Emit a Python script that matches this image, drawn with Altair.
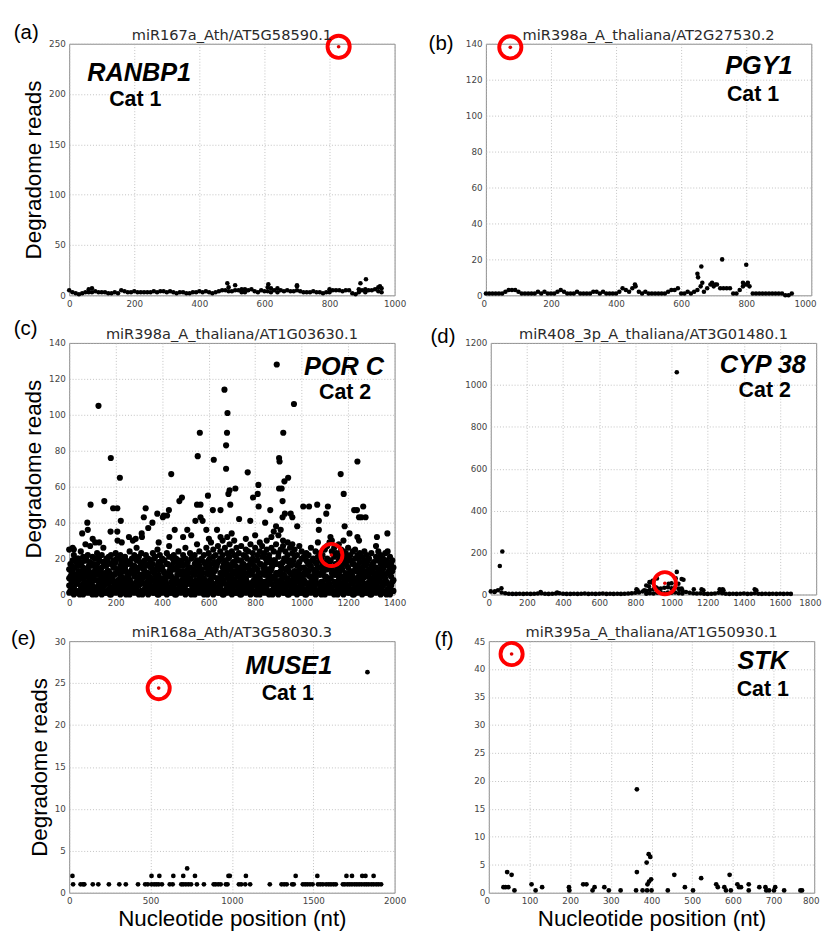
import altair as alt
import pandas as pd

# ---------------- Panel (a) miR167a_Ath/AT5G58590.1 ----------------
a_pos = [0, 10, 20, 30, 40, 50, 60, 70, 80, 90, 100, 110, 120, 130, 140, 150, 160, 170, 180, 190,
         200, 210, 220, 230, 240, 250, 260, 270, 280, 290, 300, 310, 320, 330, 340, 350, 360, 370, 380, 390,
         400, 410, 420, 430, 440, 450, 460, 470, 480, 490, 500, 510, 520, 530, 540, 550, 560, 570, 580, 590,
         600, 610, 620, 630, 640, 650, 660, 670, 680, 690, 700, 710, 720, 730, 740, 750, 760, 770, 780, 790,
         800, 810, 820, 830, 840, 850, 860, 870, 880, 890, 900, 910, 920, 930, 940, 950, 960,
         490, 610, 700, 950, 960, 640, 620, 530, 540, 70, 60, 800, 890, 910,
         486, 510, 612, 700, 895, 912, 955]
a_reads = [5, 3, 2, 1, 2, 3, 6, 7, 4, 3, 3, 3, 2, 2, 3, 2, 5, 4, 3, 3,
           4, 3, 3, 3, 3, 3, 4, 3, 4, 4, 3, 4, 3, 2, 3, 3, 2, 2, 3, 3,
           4, 3, 4, 3, 2, 3, 4, 5, 5, 8, 4, 5, 5, 6, 6, 5, 6, 4, 3, 5,
           4, 8, 7, 5, 7, 5, 4, 5, 4, 4, 9, 4, 3, 3, 3, 4, 3, 3, 2, 3,
           6, 5, 5, 5, 4, 5, 5, 2, 1, 6, 5, 6, 5, 5, 6, 8, 7,
           4, 4, 5, 4, 3, 3, 3, 3, 3, 3, 3, 3, 3, 3,
           12, 10, 11, 10, 12, 16, 9]
a_red = [(828, 247)]

# ---------------- Panel (b) miR398a_A_thaliana/AT2G27530.2 ----------------
b_pos = [0, 10, 20, 30, 40, 50, 60, 70, 80, 90, 100, 110, 120, 130, 140, 150, 160, 170, 180, 190,
         200, 210, 220, 230, 240, 250, 260, 270, 280, 290, 300, 310, 320, 330, 340, 350, 360, 370, 380, 390,
         400, 410, 420, 430, 440, 450, 460, 470, 480, 490, 500, 510, 520, 530, 540, 550, 560, 570, 580, 590,
         600, 610, 620, 630, 640, 650, 660, 670, 680, 690, 700, 710, 720, 730, 740, 750, 760, 770, 780, 790,
         800, 810, 820, 830, 840, 850, 860, 870, 880, 890, 900, 910, 920, 930, 940,
         650, 652, 662, 726, 800, 695, 705, 790, 805, 458, 665]
b_reads = [1, 1, 1, 1, 1, 1, 2, 3, 3, 3, 2, 1, 1, 1, 1, 1, 2, 1, 2, 1,
           1, 1, 2, 3, 2, 1, 1, 1, 2, 1, 1, 1, 1, 2, 2, 1, 2, 1, 1, 1,
           1, 2, 4, 3, 2, 4, 5, 2, 1, 2, 1, 1, 1, 1, 1, 1, 2, 3, 3, 4,
           1, 1, 2, 1, 2, 3, 5, 2, 4, 6, 5, 6, 4, 4, 4, 4, 1, 1, 3, 5,
           6, 5, 1, 1, 1, 1, 1, 1, 1, 1, 1, 1, 0, 0, 1,
           12, 10, 16, 20, 17, 7, 6, 7, 7, 6, 7]
b_red = [(75, 138)]

# ---------------- Panel (c) miR398a_A_thaliana/AT1G03630.1 ----------------
c_band_pos = [0, 10, 20, 30, 40, 50, 60, 70, 80, 90, 100, 110, 120, 130, 140, 150, 160, 170, 180, 190,
              200, 210, 220, 230, 240, 250, 260, 270, 280, 290, 300, 310, 320, 330, 340, 350, 360, 370, 380, 390,
              400, 410, 420, 430, 440, 450, 460, 470, 480, 490, 500, 510, 520, 530, 540, 550, 560, 570, 580, 590,
              600, 610, 620, 630, 640, 650, 660, 670, 680, 690, 700, 710, 720, 730, 740, 750, 760, 770, 780, 790,
              800, 810, 820, 830, 840, 850, 860, 870, 880, 890, 900, 910, 920, 930, 940, 950, 960, 970, 980, 990,
              1000, 1010, 1020, 1030, 1040, 1050, 1060, 1070, 1080, 1090, 1100, 1110, 1120, 1130, 1140, 1150,
              1160, 1170, 1180, 1190, 1200, 1210, 1220, 1230, 1240, 1250, 1260, 1270, 1280, 1290, 1300, 1310,
              1320, 1330, 1340, 1350, 1360, 1370, 1380, 1390]
c_band_reads = [
    [1, 5, 9, 14, 25], [3, 7, 12, 16], [0, 4, 10, 15, 22], [2, 6, 11, 18], [1, 8, 13, 20],
    [3, 5, 12, 17, 24], [0, 6, 9, 15, 21], [2, 4, 11, 19, 28], [1, 7, 14, 22], [3, 9, 12, 18, 27],
    [0, 5, 10, 16, 21], [2, 8, 13, 20], [1, 4, 11, 17, 23], [3, 7, 14, 19], [0, 6, 9, 15, 22],
    [2, 5, 12, 18], [1, 8, 10, 16, 20], [3, 6, 13, 21], [0, 4, 9, 17, 22], [2, 7, 11, 15, 19],
    [1, 5, 12, 18, 23], [3, 8, 14, 20], [0, 6, 10, 16, 22], [2, 4, 13, 19], [1, 7, 9, 15, 21],
    [3, 5, 11, 17], [0, 8, 12, 18, 24], [2, 6, 14, 20], [1, 4, 10, 16, 22], [3, 7, 13, 19, 26],
    [0, 5, 9, 15, 21], [2, 8, 11, 17, 23], [1, 6, 14, 18], [3, 4, 10, 16, 22], [0, 7, 12, 20],
    [2, 5, 9, 15, 19], [1, 8, 13, 17, 23], [3, 6, 11, 21], [0, 4, 10, 16, 25], [2, 7, 14, 18, 22],
    [1, 5, 9, 15, 20], [3, 8, 12, 19], [0, 6, 11, 17, 23], [2, 4, 13, 21, 27], [1, 7, 10, 16],
    [3, 5, 14, 18, 22], [0, 8, 9, 15, 20], [2, 6, 12, 19, 24], [1, 4, 11, 17], [3, 7, 13, 16, 22],
    [0, 5, 10, 20, 26], [2, 8, 14, 18], [1, 6, 9, 15, 23], [3, 4, 12, 21], [0, 7, 11, 17, 22],
    [2, 5, 13, 19, 28], [1, 8, 10, 16, 24], [3, 6, 14, 20], [0, 4, 9, 18, 22], [2, 7, 12, 15, 26],
    [1, 5, 11, 19, 23], [3, 8, 13, 17, 29], [0, 6, 10, 21, 25], [2, 4, 14, 16, 22], [1, 7, 9, 18, 27],
    [3, 5, 12, 20, 24], [0, 8, 11, 15, 22, 30], [2, 6, 13, 19, 26], [1, 4, 10, 17, 23, 32], [3, 7, 14, 21, 28],
    [0, 5, 9, 16, 24], [2, 8, 12, 18, 22, 30], [1, 6, 11, 20, 26], [3, 4, 13, 15, 23], [0, 7, 10, 19, 27],
    [2, 5, 14, 17, 22], [1, 8, 9, 21, 25, 31], [3, 6, 12, 16, 24], [0, 4, 11, 18, 28], [2, 7, 13, 20, 23],
    [1, 5, 10, 15, 26, 33], [3, 8, 14, 19, 22], [0, 6, 9, 17, 24, 29], [2, 4, 12, 21, 27], [1, 7, 11, 16, 23],
    [3, 5, 13, 18, 25, 30], [0, 8, 10, 20, 22], [2, 6, 14, 15, 26, 32], [1, 4, 9, 19, 24, 35], [3, 7, 12, 17, 28, 38],
    [0, 5, 11, 21, 23, 33], [2, 8, 13, 16, 25, 36], [1, 6, 10, 18, 27, 30], [3, 4, 14, 20, 24], [0, 7, 9, 15, 22, 29],
    [2, 5, 12, 19, 26], [1, 8, 11, 17, 23, 28], [3, 6, 13, 21, 25], [0, 4, 10, 16, 22], [2, 7, 14, 18, 27],
    [1, 5, 9, 20, 24], [3, 8, 12, 15, 21], [0, 6, 11, 19, 23], [2, 4, 13, 17, 22], [1, 7, 10, 16, 26],
    [3, 5, 14, 20], [0, 8, 9, 18, 24], [2, 6, 12, 15, 21, 29], [1, 4, 11, 19, 23], [3, 7, 13, 17, 22],
    [0, 5, 10, 16, 25], [2, 8, 14, 20, 27], [1, 6, 9, 18, 29], [3, 4, 12, 15, 24, 30], [0, 7, 11, 21, 26],
    [2, 5, 13, 17, 23], [1, 8, 10, 19, 22, 28], [3, 6, 14, 16, 25], [0, 4, 9, 20, 24, 30], [2, 7, 12, 18, 23],
    [1, 5, 11, 15, 21, 26], [3, 8, 13, 19, 22], [0, 6, 10, 17, 24], [2, 4, 14, 20, 25], [1, 7, 9, 16, 22],
    [3, 5, 12, 18, 23], [0, 8, 11, 15, 21], [2, 6, 13, 19, 24], [1, 4, 10, 17, 22], [3, 7, 14, 20],
    [0, 5, 9, 16, 23], [2, 8, 12, 18], [1, 6, 11, 15, 21, 27], [3, 4, 13, 19, 24], [0, 7, 10, 17, 22],
    [2, 5, 14, 20], [1, 8, 9, 16, 23], [3, 6, 12, 18, 24], [0, 4, 11, 15, 21], [2, 7, 13, 19],
]
c_band2_pos = [5, 15, 25, 35, 45, 55, 65, 75, 85, 95, 105, 115, 125, 135, 145, 155, 165, 175, 185, 195,
               205, 215, 225, 235, 245, 255, 265, 275, 285, 295, 305, 315, 325, 335, 345, 355, 365, 375, 385,
               395, 405, 415, 425, 435, 445, 455, 465, 475, 485, 495, 505, 515, 525, 535, 545, 555, 565, 575,
               585, 595, 605, 615, 625, 635, 645, 655, 665, 675, 685, 695, 705, 715, 725, 735, 745, 755, 765,
               775, 785, 795, 805, 815, 825, 835, 845, 855, 865, 875, 885, 895, 905, 915, 925, 935, 945, 955,
               965, 975, 985, 995, 1005, 1015, 1025, 1035, 1045, 1055, 1065, 1075, 1085, 1095, 1105, 1115,
               1125, 1135, 1145, 1155, 1165, 1175, 1185, 1195, 1205, 1215, 1225, 1235, 1245, 1255, 1265, 1275,
               1285, 1295, 1305, 1315, 1325, 1335, 1345, 1355, 1365, 1375, 1385, 1395]
c_band2_reads = [
    [2, 10, 17], [4, 13, 19], [1, 8, 15], [6, 11, 20], [0, 9, 16], [3, 12, 18], [5, 7, 14], [2, 10, 19],
    [4, 13, 16], [1, 6, 11], [3, 9, 17], [0, 12, 15], [5, 8, 20], [2, 11, 14], [4, 7, 18], [1, 10, 16],
    [6, 13, 19], [0, 8, 12], [3, 9, 17], [5, 11, 15], [2, 7, 20], [4, 12, 14], [1, 10, 18], [6, 8, 16],
    [0, 13, 19], [3, 9, 11], [5, 7, 17], [2, 12, 15], [4, 10, 20], [1, 8, 14], [6, 11, 18], [0, 9, 16],
    [3, 13, 19], [5, 7, 12], [2, 10, 17], [4, 8, 15], [1, 12, 20], [6, 9, 14], [0, 11, 18], [3, 7, 16],
    [5, 13, 19], [2, 8, 11], [4, 10, 17], [1, 12, 15], [6, 9, 20], [0, 7, 14], [3, 11, 18], [5, 13, 16],
    [2, 8, 19], [4, 10, 12], [1, 9, 17], [6, 12, 15], [0, 7, 20], [3, 11, 14], [5, 8, 18], [2, 13, 16],
    [4, 10, 19], [1, 9, 12], [6, 7, 17], [0, 12, 15], [3, 8, 20], [5, 11, 14], [2, 13, 18], [4, 9, 16],
    [1, 7, 19], [6, 10, 12], [0, 8, 17], [3, 12, 15], [5, 9, 20], [2, 11, 14], [4, 7, 18], [1, 13, 16],
    [6, 10, 19], [0, 8, 12], [3, 9, 17], [5, 12, 15], [2, 7, 20], [4, 11, 14], [1, 13, 18], [6, 8, 16],
    [0, 10, 19], [3, 9, 12], [5, 7, 17], [2, 12, 15], [4, 11, 20], [1, 8, 14], [6, 13, 18], [0, 10, 16],
    [3, 9, 19], [5, 7, 12], [2, 12, 17], [4, 8, 15], [1, 11, 20], [6, 9, 14], [0, 13, 18], [3, 7, 16],
    [5, 10, 19], [2, 8, 11], [4, 12, 17], [1, 9, 15], [6, 11, 20], [0, 7, 14], [3, 13, 18], [5, 10, 16],
    [2, 8, 19], [4, 9, 12], [1, 12, 17], [6, 11, 15], [0, 7, 20], [3, 13, 14], [5, 10, 18], [2, 8, 16],
    [4, 9, 19], [1, 12, 13], [6, 11, 17], [0, 7, 15], [3, 13, 20], [5, 10, 14], [2, 8, 18], [4, 9, 16],
    [1, 12, 19], [6, 11, 12], [0, 7, 17], [3, 13, 15], [5, 10, 20], [2, 8, 14], [4, 9, 18], [1, 12, 16],
    [6, 11, 19], [0, 7, 12], [3, 13, 17], [5, 10, 15], [2, 8, 20], [4, 9, 14], [1, 12, 18], [6, 11, 16],
    [0, 7, 19], [3, 13, 12], [5, 10, 17], [2, 8, 15],
]
c_high_pos = [15, 20, 56, 78, 80, 92, 101, 112, 126, 129, 147, 151, 179, 178, 189, 207, 222, 218, 207, 208,
              226, 257, 274, 286, 312, 313, 321, 329, 340, 358, 379, 385, 403, 407, 421, 429, 439, 431, 454,
              474, 485, 490, 508, 525, 543, 553, 550, 565, 562, 565, 574, 590, 597, 601, 618, 622, 636, 651,
              651, 668, 675, 681, 679, 675, 685, 693, 690, 699, 715, 731, 768, 779, 791, 814, 811, 815, 843,
              865, 893, 903, 905, 921, 903, 914, 918, 926, 942, 918, 928, 953, 960, 967, 981, 1007, 1032,
              1067, 1074, 1074, 1106, 1113, 1124, 1168, 1181, 1185, 1206, 1226, 1240, 1238, 1247, 1257,
              1240, 1247, 1265, 1275, 1324, 1369]
c_high_reads = [26, 25, 34, 40, 36, 50, 31, 29, 105, 29, 26, 52, 76, 35, 48, 48, 41, 65, 35, 30,
                29, 32, 30, 31, 34, 32, 43, 48, 37, 40, 45, 29, 43, 44, 44, 47, 67, 32, 36,
                52, 54, 32, 36, 33, 41, 77, 50, 50, 90, 43, 41, 36, 55, 31, 47, 75, 36, 47,
                32, 114, 83, 101, 90, 70, 56, 50, 58, 34, 59, 42, 68, 41, 54, 61, 56, 49, 40,
                47, 128, 76, 74, 90, 59, 59, 52, 63, 65, 43, 45, 45, 43, 106, 38, 49, 49,
                50, 41, 36, 45, 49, 32, 67, 56, 38, 34, 47, 74, 47, 43, 43,
                32, 30, 49, 43, 32, 34]
c_red = [(1128, 22)]

# ---------------- Panel (d) miR408_3p_A_thaliana/AT3G01480.1 ----------------
d_pos = [0, 20, 40, 60, 80, 100, 120, 140, 160, 180, 200, 220, 240, 260, 280, 300, 320, 340, 360, 380,
         400, 420, 440, 460, 480, 500, 520, 540, 560, 580, 600, 620, 640, 660, 680, 700, 720, 740, 760, 780,
         800, 820, 840, 860, 880, 900, 920, 940, 960, 980, 1000, 1020, 1040, 1060, 1080, 1100, 1120, 1140,
         1160, 1180, 1200, 1220, 1240, 1260, 1280, 1300, 1320, 1340, 1360, 1380, 1400, 1420, 1440, 1460,
         1480, 1500, 1520, 1540, 1560, 1580, 1600, 1620, 1640, 1660,
         880, 900, 920, 940, 960, 980, 1000, 1020, 1040, 1060, 860,
         1029, 64, 50, 59, 23, 276, 367, 806, 812, 849, 860, 875, 878, 892, 895, 913, 919, 984, 1000,
         1023, 1029, 1038, 1044, 1056, 1056, 1066, 1123, 1166, 1176, 1266, 1274, 1283, 1287, 1460, 1469]
d_reads = [15, 12, 20, 10, 6, 4, 3, 3, 4, 3, 4, 3, 4, 5, 6, 4, 3, 4, 5, 6,
           4, 3, 3, 4, 3, 4, 5, 3, 4, 3, 4, 5, 3, 4, 3, 4, 3, 4, 5, 6,
           8, 10, 14, 18, 22, 25, 30, 28, 32, 35, 30, 34, 28, 20, 12, 8, 6, 5,
           6, 4, 3, 4, 5, 8, 6, 4, 3, 4, 3, 4, 5, 3, 4, 6,
           4, 3, 4, 3, 4, 3, 4, 3, 4, 3,
           6, 5, 8, 10, 6, 10, 8, 10, 6, 5, 4,
           1060, 205, 136, 30, 15, 12, 10, 25, 20, 20, 43, 39, 59, 57, 66, 35, 77, 51, 54,
           77, 108, 51, 23, 74, 28, 70, 25, 25, 20, 25, 20, 25, 20, 25, 20]
d_red = [(963, 54)]

# ---------------- Panel (e) miR168a_Ath/AT3G58030.3 ----------------
e_pos = [24, 70, 85, 93, 145, 179, 244, 308, 348, 423, 467, 483, 506, 522, 536, 550, 570, 618, 636, 689,
         701, 717, 733, 749, 785, 828, 888, 900, 916, 931, 963, 973, 1043, 1057, 1082, 1112, 1233, 1305,
         1321, 1337, 1370, 1380, 1436, 1450, 1464, 1480, 1496, 1529, 1543, 1559, 1579, 1595, 1609, 1625,
         1639, 1682, 1694, 1710, 1724, 1738, 1754, 1768, 1782, 1797, 1813, 1827, 1841, 1857, 1871, 1887,
         1901, 1917,
         20, 506, 554, 640, 701, 773, 979, 987, 1086, 1392, 1525, 1704, 1738, 1801, 1821, 1871,
         725, 1833]
e_reads = [1, 1, 1, 1, 1, 1, 1, 1, 1, 1, 1, 1, 1, 1, 1, 1, 1, 1, 1, 1,
           1, 1, 1, 1, 1, 1, 1, 1, 1, 1, 1, 1, 1, 1, 1, 1, 1, 1,
           1, 1, 1, 1, 1, 1, 1, 1, 1, 1, 1, 1, 1, 1, 1, 1,
           1, 1, 1, 1, 1, 1, 1, 1, 1, 1, 1, 1, 1, 1, 1, 1,
           1, 1,
           2, 2, 2, 2, 2, 2, 2, 2, 2, 2, 2, 2, 2, 2, 2, 2,
           2.9, 26.3]
e_red = [(550, 24.4)]

# ---------------- Panel (f) miR395a_A_thaliana/AT1G50930.1 ----------------
f_pos = [36, 41, 48, 45, 56, 63, 105, 115, 131, 197, 198, 232, 240, 255, 260, 284, 295, 324, 362, 364,
         364, 378, 388, 390, 393, 397, 394, 399, 400, 389, 440, 456, 482, 502, 522, 559, 563, 579, 583,
         592, 595, 611, 615, 620, 639, 639, 665, 680, 682, 689, 704, 701, 726, 766, 770]
f_reads = [1, 1, 1, 3.7, 3.2, 0.4, 1.5, 0.4, 1, 1, 0.4, 1.5, 1.5, 0.4, 1, 1, 0.4, 0.4, 0.4, 3.7,
           18.5, 0.4, 5.4, 1.5, 6.9, 6.4, 2, 2.4, 0.4, 0.4, 0.4, 3.2, 1, 0.4, 2.6, 1.5, 1, 1, 0.4,
           3.2, 0.4, 1.5, 1, 1, 1.5, 0.4, 1, 1, 0.4, 0.4, 1, 0.4, 0.4, 0.4, 0.4]
f_red = [(56, 42.7)]

# ---------------- Axis ticks ----------------
ticks_x_1000 = [0, 200, 400, 600, 800, 1000]
ticks_x_1400 = [0, 200, 400, 600, 800, 1000, 1200, 1400]
ticks_x_1800 = [0, 200, 400, 600, 800, 1000, 1200, 1400, 1600, 1800]
ticks_x_2000 = [0, 500, 1000, 1500, 2000]
ticks_x_800 = [0, 100, 200, 300, 400, 500, 600, 700, 800]
ticks_y_250 = [0, 50, 100, 150, 200, 250]
ticks_y_140 = [0, 20, 40, 60, 80, 100, 120, 140]
ticks_y_1200 = [0, 200, 400, 600, 800, 1000, 1200]
ticks_y_30 = [0, 5, 10, 15, 20, 25, 30]
ticks_y_45 = [0, 5, 10, 15, 20, 25, 30, 35, 40, 45]

W, H = 335, 259
ARIAL = "Liberation Sans"


def label(text, xy, **kw):
    one = pd.DataFrame({"k": [0]})
    kw.setdefault("color", "black")
    return alt.Chart(one).mark_text(text=text, baseline="alphabetic", **kw).encode(
        x=alt.value(xy[0]), y=alt.value(xy[1]))


def panel(pos, reads, red, title, xmax, xticks, ymax, yticks, gene, cat, letter,
          gene_xy, cat_xy, letter_xy, dot_size, left, bottom):
    df = pd.DataFrame({"pos": pos, "reads": reads})
    rdf = pd.DataFrame({"pos": [r[0] for r in red], "reads": [r[1] for r in red]})
    xaxis_kw = dict(values=xticks, format="d")
    xaxis_kw["title"] = "Nucleotide position (nt)" if bottom else None
    if not left:
        # right column: keep the last tick label inside the page edge
        xaxis_kw["labelFlush"] = True
        xaxis_kw["labelFlushOffset"] = 5
    yaxis_kw = dict(values=yticks, format="d")
    yaxis_kw["title"] = "Degradome reads" if left else None
    xenc = alt.X("pos:Q", scale=alt.Scale(domain=[0, xmax], nice=False, zero=False),
                 axis=alt.Axis(**xaxis_kw))
    yenc = alt.Y("reads:Q", scale=alt.Scale(domain=[0, ymax], nice=False, zero=False),
                 axis=alt.Axis(**yaxis_kw))
    pts = alt.Chart(df).mark_circle(color="black", opacity=1, size=dot_size).encode(x=xenc, y=yenc)
    ring = alt.Chart(rdf).mark_point(shape="circle", filled=False, color="#ff0000",
                                     strokeWidth=4, size=520, opacity=1).encode(x=xenc, y=yenc)
    rdot = alt.Chart(rdf).mark_circle(color="#e00000", size=14, opacity=1).encode(x=xenc, y=yenc)
    t = label(title, (W / 2, -4), font="DejaVu Sans", fontSize=15, align="center", color="#2a2a2a")
    g = label(gene, gene_xy, font=ARIAL, fontSize=26, fontWeight="bold", fontStyle="italic", align="center")
    c = label(cat, cat_xy, font=ARIAL, fontSize=22, fontWeight="bold", align="center")
    l = label(letter, letter_xy, font=ARIAL, fontSize=21, align="left")
    return alt.layer(pts, ring, rdot, t, g, c, l).properties(width=W, height=H)


# flatten panel c
c_pos = []
c_reads = []
for xs_list, ys_list in ((c_band_pos, c_band_reads), (c_band2_pos, c_band2_reads)):
    for x, ys in zip(xs_list, ys_list):
        for y in ys:
            c_pos.append(x)
            c_reads.append(y)
c_pos += c_high_pos
c_reads += c_high_reads

pa = panel(a_pos, a_reads, a_red, "miR167a_Ath/AT5G58590.1", 1000, ticks_x_1000, 250, ticks_y_250,
           "RANBP1", "Cat 1", "(a)", (72, 38), (68, 64), (-57, -5), 22, True, False)
pb = panel(b_pos, b_reads, b_red, "miR398a_A_thaliana/AT2G27530.2", 1000, ticks_x_1000, 140, ticks_y_140,
           "PGY1", "Cat 1", "(b)", (281, 31), (275, 59), (-59, 6), 22, False, False)
pc = panel(c_pos, c_reads, c_red, "miR398a_A_thaliana/AT1G03630.1", 1400, ticks_x_1400, 140, ticks_y_140,
           "POR C", "Cat 2", "(c)", (283, 33), (284, 58), (-57, -8), 40, True, False)
pd_ = panel(d_pos, d_reads, d_red, "miR408_3p_A_thaliana/AT3G01480.1", 1800, ticks_x_1800, 1200, ticks_y_1200,
            "CYP 38", "Cat 2", "(d)", (280, 31), (282, 56), (-62, 0), 22, False, False)
pe = panel(e_pos, e_reads, e_red, "miR168a_Ath/AT3G58030.3", 2000, ticks_x_2000, 30, ticks_y_30,
           "MUSE1", "Cat 1", "(e)", (226, 34), (225, 61), (-60, 4), 24, True, True)
pf = panel(f_pos, f_reads, f_red, "miR395a_A_thaliana/AT1G50930.1", 800, ticks_x_800, 45, ticks_y_45,
           "STK", "Cat 1", "(f)", (282, 29), (282, 56), (-56, 5), 24, False, True)

chart = alt.vconcat(
    alt.vconcat(
        alt.hconcat(pa, pb, spacing=22),
        alt.hconcat(pc, pd_, spacing=24),
        spacing=9,
    ),
    alt.hconcat(pe, pf, spacing=28),
    spacing=17,
).properties(padding={"left": 2, "top": 0, "right": 0, "bottom": 0}).configure_view(
    stroke="#8a8a8a", strokeWidth=1
).configure_axis(
    grid=True, gridDash=[1, 2], gridColor="#b0b0b0", gridWidth=0.8,
    domain=False, ticks=False, labelFont="DejaVu Sans", labelFontSize=9, labelColor="#444444",
    labelPadding=4, labelFlush=False, labelOverlap=False,
    titleFont=ARIAL, titleFontSize=23, titleFontWeight="normal", titleColor="#000000", titlePadding=3,
)

chart.save("out.html", embed_options={"renderer": "svg", "actions": False})
